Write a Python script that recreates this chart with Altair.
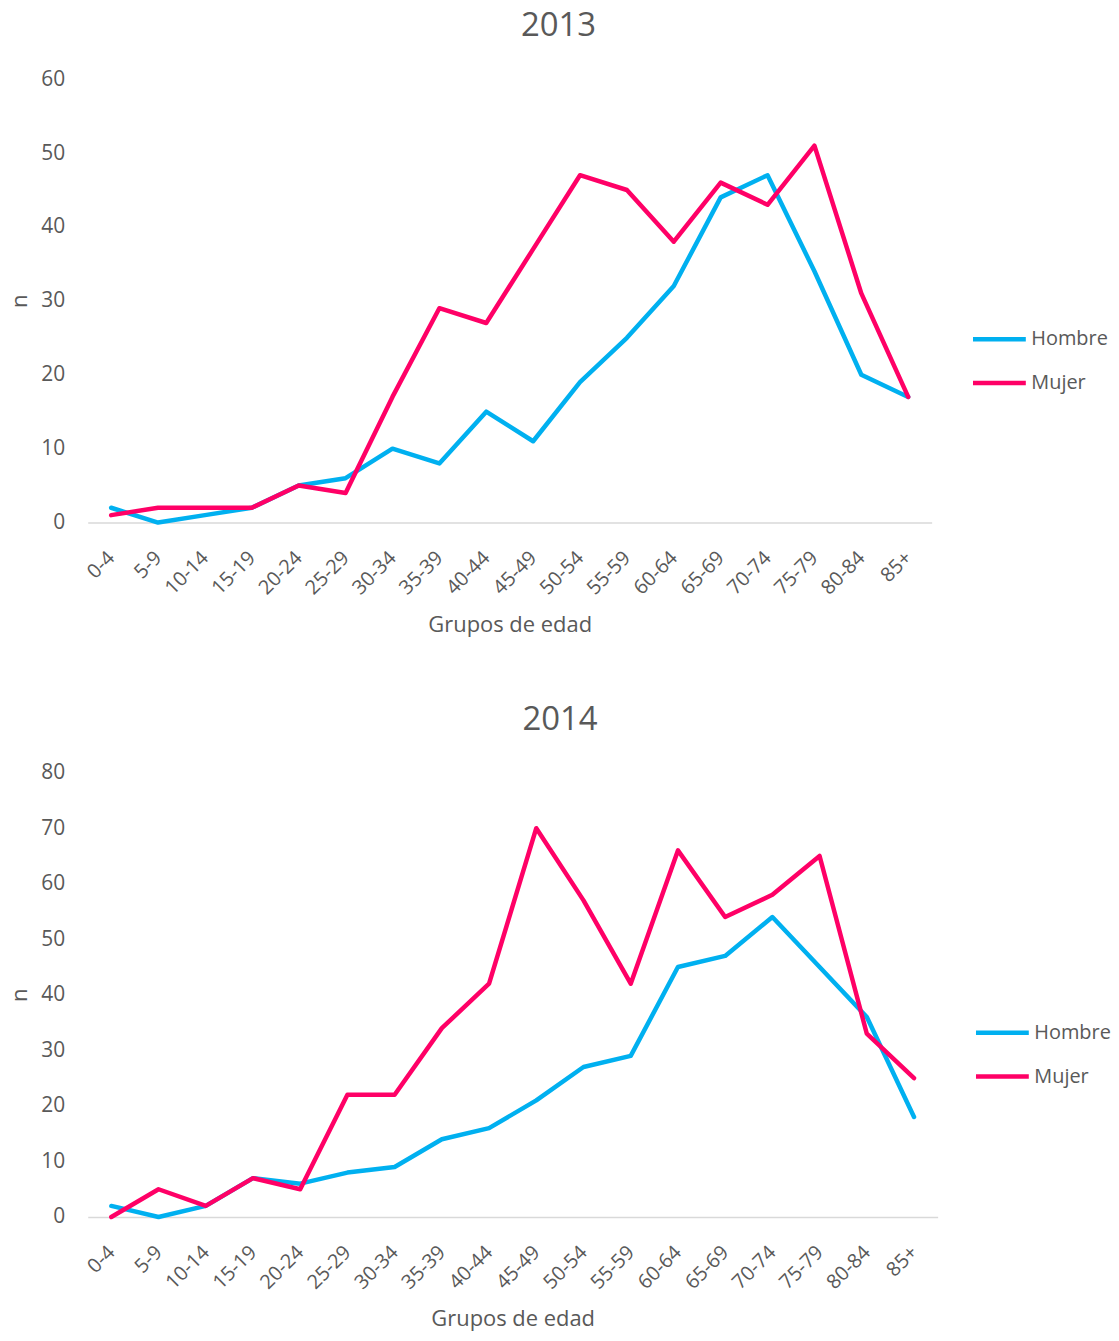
import altair as alt
import pandas as pd

grupos = ["0-4", "5-9", "10-14", "15-19", "20-24", "25-29", "30-34", "35-39", "40-44",
          "45-49", "50-54", "55-59", "60-64", "65-69", "70-74", "75-79", "80-84", "85+"]
sexos = ["Hombre", "Mujer"]
colores = ["#00B0F0", "#FF0066"]

hombre_2013 = [2, 0, 1, 2, 5, 6, 10, 8, 15, 11, 19, 25, 32, 44, 47, 34, 20, 17]
mujer_2013 = [1, 2, 2, 2, 5, 4, 17, 29, 27, 37, 47, 45, 38, 46, 43, 51, 31, 17]
hombre_2014 = [2, 0, 2, 7, 6, 8, 9, 14, 16, 21, 27, 29, 45, 47, 54, 45, 36, 18]
mujer_2014 = [0, 5, 2, 7, 5, 22, 22, 34, 42, 70, 57, 42, 66, 54, 58, 65, 33, 25]

FONT = "Open Sans"
GRAY = "#595959"


def panel(year, h, m, ymax, width, height, lx, ly):
    df = pd.DataFrame({
        "grupo": grupos * 2,
        "sexo": [sexos[0]] * len(grupos) + [sexos[1]] * len(grupos),
        "n": h + m,
    })
    return alt.Chart(df, title=alt.Title(
        str(year), fontSize=33, font=FONT, fontWeight="normal", color=GRAY,
        anchor="middle", frame="bounds", offset=25)
    ).mark_line(strokeWidth=4.5, strokeJoin="round", strokeCap="round").encode(
        x=alt.X("grupo:N", sort=grupos, title="Grupos de edad",
                scale=alt.Scale(padding=0.5),
                axis=alt.Axis(labelAngle=315, labelAlign="right", labelBaseline="middle",
                              labelFontSize=20, labelColor=GRAY, labelFont=FONT,
                              labelPadding=32, ticks=False, domainColor="#D9D9D9",
                              domainWidth=1.5, titleFontSize=22, titleFont=FONT,
                              titleFontWeight="normal", titleColor=GRAY, titlePadding=16,
                              grid=False)),
        y=alt.Y("n:Q", title="n",
                scale=alt.Scale(domain=[0, ymax], nice=False),
                axis=alt.Axis(values=list(range(0, ymax + 1, 10)), labelFontSize=21,
                              labelColor=GRAY, labelFont=FONT, labelPadding=23,
                              ticks=False, domain=False, grid=False,
                              titleFontSize=22, titleFont=FONT, titleFontWeight="normal",
                              titleColor=GRAY, titlePadding=9)),
        color=alt.Color("sexo:N", scale=alt.Scale(domain=sexos, range=colores),
                        legend=alt.Legend(title=None, orient="none", legendX=lx, legendY=ly,
                                          symbolType="stroke", symbolSize=2809,
                                          symbolStrokeWidth=4.5, labelFontSize=20,
                                          labelFont=FONT, labelColor=GRAY, labelOffset=3,
                                          rowPadding=5, padding=0)),
    ).properties(width=width, height=height)


top = panel(2013, hombre_2013, mujer_2013, 60, 847, 445, 886, 232)
bottom = panel(2014, hombre_2014, mujer_2014, 80, 853, 446, 889, 232)

chart = alt.vconcat(top, bottom, spacing=69).resolve_legend(color="independent").resolve_scale(
    color="independent"
).configure_view(stroke=None).properties(padding=0)

chart.save("out.html", embed_options={"renderer": "svg", "actions": False})
